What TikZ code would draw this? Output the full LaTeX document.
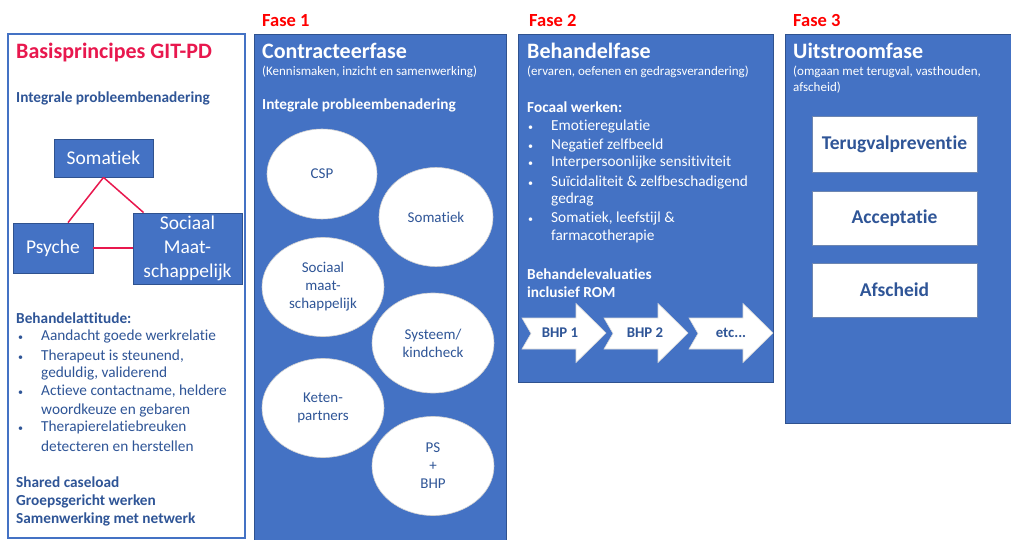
\documentclass[tikz,border=0pt]{standalone}
\usepackage{fontspec}
\setmainfont{Carlito}[Ligatures=NoCommon]
\usetikzlibrary{shapes.geometric}

\definecolor{fillblue}{HTML}{4472C4}
\definecolor{edgeblue}{HTML}{2F528F}
\definecolor{inkblue}{HTML}{2F5597}
\definecolor{accent}{RGB}{232,24,78}
\definecolor{phasered}{HTML}{FF0000}

\tikzset{
  panel/.style={fill=fillblue, draw=edgeblue, line width=0.8},
  % text lines are placed by the middle of their capitals
  txt/.style={anchor=base west, inner sep=0},
  title/.style={txt, yshift=-6.8pt, font=\bfseries\fontsize{22}{26}\selectfont},
  sub/.style={txt, yshift=-4pt, font=\fontsize{13}{15}\selectfont},
  head/.style={txt, yshift=-4.8pt, font=\bfseries\fontsize{15.3}{18}\selectfont},
  body/.style={txt, yshift=-4.8pt, font=\fontsize{15.3}{18}\selectfont},
  dot/.style={txt, yshift=-4.3pt, font=\fontsize{10}{12}\selectfont},
  phase/.style={txt, yshift=-5.8pt, text=phasered, font=\bfseries\fontsize{18.5}{22}\selectfont},
  lbox/.style={rectangle, fill=fillblue, draw=edgeblue, line width=0.8, text=white,
    inner sep=0, align=center, font=\fontsize{19.5}{24}\selectfont},
  link/.style={draw=accent, line width=1.5},
  oval/.style={ellipse, fill=white, draw=black!18, line width=0.6, inner sep=0,
    text=inkblue, align=center, font=\fontsize{15}{18}\selectfont},
  step3/.style={rectangle, fill=white, draw=edgeblue!70, line width=0.8, inner sep=0,
    minimum width=165, text=inkblue, font=\bfseries\fontsize{19.5}{23}\selectfont},
  chevron/.style={fill=white, draw=black!15, line width=0.6},
  chevtext/.style={inner sep=0, text=inkblue, font=\bfseries\fontsize{14.8}{17}\selectfont}
}

% notched arrow outline starting at tail x = #1
\newcommand{\notcharrow}[1]{%
  \draw[chevron] (#1,318) -- (#1+54,318) -- (#1+54,303.5) -- (#1+84,333) -- (#1+54,362.5)
    -- (#1+54,349) -- (#1,349) -- (#1+9,333.5) -- cycle;}

\begin{document}
\begin{tikzpicture}[x=1pt, y=-1pt]
\useasboundingbox[fill=white] (0,0) rectangle (1011,540);

% ---------- Basisprincipes ----------
\draw[draw=fillblue, line width=1.2, fill=white] (8,34) rectangle (245,538);
\node[title, text=accent] (basis) at (16,52) {Basisprincipes GIT-PD};
\node[head, text=inkblue] (lint) at (16,98) {Integrale probleembenadering};

\node[lbox, minimum width=99, minimum height=38] (lsom) at (103.5,158) {Somatiek};
\node[lbox, minimum width=80, minimum height=50] (lpsy) at (53,248) {Psyche};
\node[lbox, minimum width=109, minimum height=71] (lsoc) at (187.5,248.5) {Sociaal\\Maat-\\schappelijk};
\draw[link] (lsom.south) -- ([xshift=15]lpsy.north);
\draw[link] (lsom.south) -- ([xshift=11]lsoc.north west);
\draw[link] (lpsy.east) -- (lpsy.east -| lsoc.west);

\node[head, text=inkblue] (att) at (16,319) {Behandelattitude:};
\foreach \y in {336,356,391,427}
  \node[dot, text=inkblue] at (18,\y) {•};
\node[body, text=inkblue] (a1) at (41,336) {Aandacht goede werkrelatie};
\node[body, text=inkblue] (a2) at (41,356) {Therapeut is steunend,};
\node[body, text=inkblue] (a2b) at (41,373) {geduldig, validerend};
\node[body, text=inkblue] (a3) at (41,391) {Actieve contactname, heldere};
\node[body, text=inkblue] (a3b) at (41,410) {woordkeuze en gebaren};
\node[body, text=inkblue] (a4) at (41,427) {Therapierelatiebreuken};
\node[body, text=inkblue] (a4b) at (41,447) {detecteren en herstellen};

\node[head, text=inkblue] (b1) at (16,483) {Shared caseload};
\node[head, text=inkblue] (b2) at (16,501) {Groepsgericht werken};
\node[head, text=inkblue] (b3) at (16,519) {Samenwerking met netwerk};

% ---------- Fase 1 ----------
\node[phase] (f1) at (262,20.5) {Fase 1};
\draw[panel] (254,34) rectangle (506,542);
\node[title, text=white] (p1t) at (262,52) {Contracteerfase};
\node[sub, text=white] (p1s) at (262,72) {(Kennismaken, inzicht en samenwerking)};
\node[head, text=white] (p1h) at (262,105) {Integrale probleembenadering};

\node[oval, minimum width=110, minimum height=90] (csp) at (322,174) {CSP};
\node[oval, minimum width=114, minimum height=99] (som) at (436,217) {Somatiek};
\node[oval, minimum width=122, minimum height=99] (soc) at (323,287) {Sociaal\\maat-\\schappelijk};
\node[oval, minimum width=122, minimum height=100] (sys) at (433,343) {Systeem/\\kindcheck};
\node[oval, minimum width=122, minimum height=99] (ket) at (323,408) {Keten-\\partners};
\node[oval, minimum width=122, minimum height=99] (psb) at (433,466) {PS\\+\\BHP};

% ---------- Fase 2 ----------
\node[phase] (f2) at (529,20.5) {Fase 2};
\draw[panel] (518,34) rectangle (773,382);
\node[title, text=white] (p2t) at (527,52) {Behandelfase};
\node[sub, text=white] (p2s) at (527,72) {(ervaren, oefenen en gedragsverandering)};
\node[head, text=white] (p2h) at (527,108) {Focaal werken:};
\foreach \y in {126,145,162,182,218}
  \node[dot, text=white] at (528,\y) {•};
\node[body, text=white] (c1) at (551,126) {Emotieregulatie};
\node[body, text=white] (c2) at (551,145) {Negatief zelfbeeld};
\node[body, text=white] (c3) at (551,162) {Interpersoonlijke sensitiviteit};
\node[body, text=white] (c4) at (551,182) {Suïcidaliteit \& zelfbeschadigend};
\node[body, text=white] (c4b) at (551,199) {gedrag};
\node[body, text=white] (c5) at (551,218) {Somatiek, leefstijl \&};
\node[body, text=white] (c5b) at (551,236) {farmacotherapie};
\node[head, text=white] (ev1) at (527,275) {Behandelevaluaties};
\node[head, text=white] (ev2) at (527,293) {inclusief ROM};

% treatment plan arrows
\notcharrow{522}
\notcharrow{604}
\notcharrow{689}
\node[chevtext] (bhpa) at (560,333) {BHP 1};
\node[chevtext] (bhpb) at (645,333) {BHP 2};
\node[chevtext] (bhpc) at (731,333) {etc...};

% ---------- Fase 3 ----------
\node[phase] (f3) at (793,20.5) {Fase 3};
\draw[panel] (785,34) rectangle (1014,423);
\node[title, text=white] (p3t) at (793,52) {Uitstroomfase};
\node[sub, text=white] (p3s) at (793,72) {(omgaan met terugval, vasthouden,};
\node[sub, text=white] (p3s2) at (793,88) {afscheid)};
\node[step3, minimum height=56] (terug) at (894.5,144) {Terugvalpreventie};
\node[step3, minimum height=54] (accept) at (894.5,218) {Acceptatie};
\node[step3, minimum height=54] (afsch) at (894.5,290) {Afscheid};
\end{tikzpicture}
\end{document}
